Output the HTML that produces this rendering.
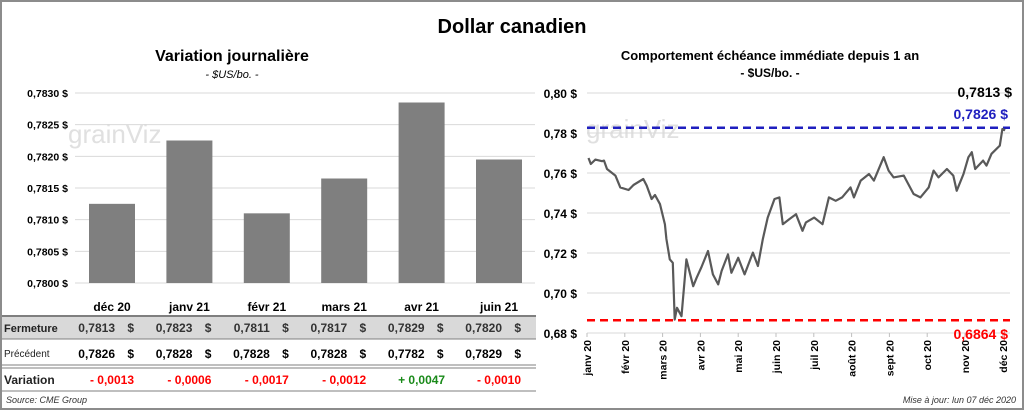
<!DOCTYPE html>
<html><head><meta charset="utf-8">
<style>
body{margin:0;background:#fff;}
svg{display:block;font-family:"Liberation Sans",sans-serif;}
</style></head>
<body>
<svg id="c" width="1024" height="410" viewBox="0 0 1024 410" xmlns="http://www.w3.org/2000/svg">
<rect x="1" y="1" width="1022" height="408" fill="#fff" stroke="#8c8c8c" stroke-width="2"/>
<text x="512" y="33" text-anchor="middle" font-size="20" font-weight="bold">Dollar canadien</text>
<text x="232" y="61" text-anchor="middle" font-size="16" font-weight="bold">Variation  journalière</text>
<text x="232" y="78" text-anchor="middle" font-size="11" font-style="italic">- $US/bo. -</text>
<text x="770" y="60" text-anchor="middle" font-size="13" font-weight="bold">Comportement échéance immédiate depuis 1 an</text>
<text x="770" y="77" text-anchor="middle" font-size="12" font-weight="bold">- $US/bo. -</text>
<text x="68" y="143" font-size="26" fill="#e0e0e0">grainViz</text>
<text x="586" y="138" font-size="26" fill="#e0e0e0">grainViz</text>
<g id="left"></g>
<g id="table"></g>
<g id="right"></g>
<text x="6" y="403" font-size="9" font-style="italic" fill="#333">Source: CME Group</text>
<text x="1016" y="403" text-anchor="end" font-size="9" font-style="italic" fill="#333">Mise à jour: lun 07 déc 2020</text>
</svg>
<script>
const NS="http://www.w3.org/2000/svg";
const barCats=["déc 20","janv 21","févr 21","mars 21","avr 21","juin 21"];
const barVals=[0.78125,0.78225,0.7811,0.78165,0.78285,0.78195];
const barTicks=[0.7800,0.7805,0.7810,0.7815,0.7820,0.7825,0.7830];
const closeVals=["0,7813","0,7823","0,7811","0,7817","0,7829","0,7820"];
const prevVals=["0,7826","0,7828","0,7828","0,7828","0,7782","0,7829"];
const varVals=["- 0,0013","- 0,0006","- 0,0017","- 0,0012","+ 0,0047","- 0,0010"];
const lineMonths=["janv 20","févr 20","mars 20","avr 20","mai 20","juin 20","juil 20","août 20","sept 20","oct 20","nov 20","déc 20"];
const lineTicks=[0.68,0.70,0.72,0.74,0.76,0.78,0.80];
const lineX=[0.04,0.1,0.22,0.4,0.45,0.53,0.75,0.88,1.1,1.23,1.49,1.58,1.71,1.8,1.93,2.06,2.1,2.19,2.27,2.32,2.38,2.5,2.63,2.72,2.81,2.9,3.03,3.2,3.33,3.47,3.56,3.73,3.82,4.0,4.17,4.39,4.52,4.65,4.78,4.96,5.09,5.18,5.35,5.53,5.7,5.79,6.01,6.23,6.4,6.58,6.75,6.97,7.06,7.24,7.46,7.59,7.85,7.98,8.11,8.38,8.64,8.82,9.04,9.17,9.3,9.52,9.69,9.78,9.96,10.09,10.18,10.27,10.48,10.57,10.7,10.92,10.99,11.06];
const lineY=[0.7675,0.7645,0.7667,0.7659,0.7662,0.762,0.7587,0.7528,0.7515,0.754,0.757,0.7537,0.747,0.749,0.7444,0.7344,0.727,0.7168,0.7151,0.6867,0.6926,0.6884,0.7168,0.7101,0.7034,0.7076,0.713,0.721,0.7093,0.7043,0.711,0.7193,0.7101,0.7176,0.7093,0.7202,0.7135,0.7269,0.7377,0.747,0.7478,0.7344,0.7369,0.7394,0.7311,0.7353,0.7377,0.7344,0.7478,0.7461,0.7478,0.7528,0.7478,0.7562,0.7595,0.7562,0.7679,0.7612,0.7578,0.7587,0.7495,0.7478,0.7528,0.7612,0.7578,0.762,0.7587,0.7511,0.7595,0.7679,0.7704,0.762,0.7662,0.7637,0.7696,0.7737,0.782,0.7813];
const refHigh=0.7826, refLow=0.6864, lastVal="0,7813 $";
function el(tag,attrs,parent,text){const e=document.createElementNS(NS,tag);for(const k in attrs)e.setAttribute(k,attrs[k]);if(text!==undefined)e.textContent=text;parent.appendChild(e);return e;}
function fmt(v,d){return v.toFixed(d).replace('.',',')+' $';}
const L=document.getElementById('left');
const ly=v=>283-(v-0.78)/0.003*190;
const lx=i=>112+i*77.4;
barTicks.forEach(t=>{
 const g=el('line',{x1:75,x2:535,y1:ly(t),y2:ly(t),stroke:'#d9d9d9','stroke-width':1},L);
 
 const tx=el('text',{x:68,y:ly(t)+4,'text-anchor':'end','font-size':10.5,'font-weight':'bold'},L,fmt(t,4));
 
});
barVals.forEach((v,i)=>{
 const r=el('rect',{x:lx(i)-23,y:ly(v),width:46,height:ly(0.78)-ly(v),fill:'#7f7f7f'},L);
 
});
const T=document.getElementById('table');
const bg=el('rect',{x:2,y:316,width:534,height:23,fill:'#d9d9d9'},T);

[[316,2],[339,1],[365,1],[368,1],[391,1]].forEach(([y,w])=>{const l=el('line',{x1:2,x2:536,y1:y,y2:y,stroke:'#7f7f7f','stroke-width':w},T);});
const lbls=[["Fermeture",332,11,'bold'],["Précédent",357,10,'normal'],["Variation",384,12,'bold']];
lbls.forEach(([t,y,s,w])=>{const x=el('text',{x:4,y:y,'font-size':s,'font-weight':w,fill:'#222'},T,t);});
barCats.forEach((c,i)=>{
 const cx=lx(i);
 const h=el('text',{x:cx,y:311,'text-anchor':'middle','font-size':12,'font-weight':'bold'},T,c);
 
 const a=el('text',{x:cx+3,y:332,'text-anchor':'end','font-size':12,'font-weight':'bold',fill:'#333'},T,closeVals[i]);
 
 const a2=el('text',{x:cx+22,y:332,'text-anchor':'end','font-size':12,'font-weight':'bold',fill:'#333'},T,'$');
 
 const b=el('text',{x:cx+3,y:358,'text-anchor':'end','font-size':12,'font-weight':'bold'},T,prevVals[i]);
 
 const b2=el('text',{x:cx+22,y:358,'text-anchor':'end','font-size':12,'font-weight':'bold'},T,'$');
 
 const v=el('text',{x:cx,y:384,'text-anchor':'middle','font-size':12,'font-weight':'bold',fill:varVals[i][0]=='+'?'#1a8a1a':'#ff0000'},T,varVals[i]);
 
});
const R=document.getElementById('right');
const ry=v=>93+(0.80-v)*2000;
const rx=m=>587+m*37.8;
lineTicks.forEach(t=>{
 const g=el('line',{x1:587,x2:1010,y1:ry(t),y2:ry(t),stroke:'#d9d9d9','stroke-width':1},R);
 
 const tx=el('text',{x:577,y:ry(t)+5,'text-anchor':'end','font-size':12,'font-weight':'bold'},R,fmt(t,2));
 
});
lineMonths.forEach((m,i)=>{
 const x=rx(i);
 const tk=el('line',{x1:x,x2:x,y1:333,y2:337,stroke:'#bfbfbf'},R);
 
 const t=el('text',{x:x+4,y:340,'text-anchor':'end','font-size':10.5,'font-weight':'bold',transform:`rotate(-90 ${x+4} 340)`},R,m);
 
});
const hi=el('line',{x1:587,x2:1010,y1:ry(refHigh),y2:ry(refHigh),stroke:'#1f1fbf','stroke-width':2.5,'stroke-dasharray':'8,5'},R);

const lo=el('line',{x1:587,x2:1010,y1:ry(refLow),y2:ry(refLow),stroke:'#ff0000','stroke-width':2.5,'stroke-dasharray':'8,5'},R);

const pts=lineX.map((m,i)=>rx(m).toFixed(1)+','+ry(lineY[i]).toFixed(1)).join(' ');
const pl=el('polyline',{points:pts,fill:'none',stroke:'#595959','stroke-width':2.2,'stroke-linejoin':'round'},R);

const t1=el('text',{x:1012,y:97,'text-anchor':'end','font-size':14,'font-weight':'bold'},R,lastVal);

const t2=el('text',{x:1008,y:119,'text-anchor':'end','font-size':14,'font-weight':'bold',fill:'#1f1fbf'},R,fmt(refHigh,4).replace(' $','  $'));

const t3=el('text',{x:1008,y:339,'text-anchor':'end','font-size':14,'font-weight':'bold',fill:'#ff0000'},R,fmt(refLow,4).replace(' $','  $'));

</script>
</body></html>
